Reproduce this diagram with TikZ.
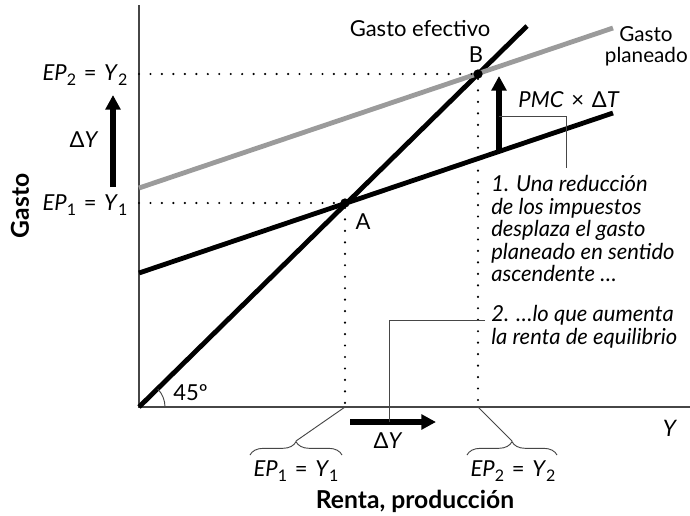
\documentclass[tikz,border=0pt]{standalone}
\usepackage{fontspec}
\setmainfont{Lato}
\usetikzlibrary{arrows.meta,decorations.pathreplacing}

\definecolor{gris}{RGB}{155,155,155}
\definecolor{ejes}{RGB}{70,70,70}
\newcommand{\subind}[1]{\raisebox{-0.45ex}{\fontsize{12}{12}\selectfont #1}}
\newcommand{\igual}{\hspace{0.35em}=\hspace{0.35em}}

\begin{document}
\begin{tikzpicture}[x=0.75pt,y=-0.75pt,
  font=\fontsize{16.5}{19}\selectfont,
  eje/.style={draw=ejes,line width=1.1pt},
  recta/.style={line width=3.6pt},
  punteada/.style={line width=1.8pt,line cap=round,dash pattern=on 0pt off 8.6pt},
  punto/.style={circle,fill=black,inner sep=0pt,minimum size=7pt},
  flecha/.style={line width=3.8pt,-{Triangle[length=11pt,width=11pt]}},
  guia/.style={draw=ejes,line width=0.7pt},
  llave/.style={guia,decorate,decoration={brace,amplitude=10pt}},
  etq/.style={inner sep=0pt,anchor=base},
  negrita/.style={font=\fontsize{18.5}{20}\selectfont\bfseries}]
  \useasboundingbox (0,0) rectangle (690,515);

  % ejes
  \coordinate (O) at (139,407);
  \coordinate (ytop) at (139,5);
  \coordinate (xend) at (690,407);
  \draw[eje] (ytop) -- (O) -- (xend);

  % rectas
  \draw[recta] (O) -- (527,26);
  \draw[recta,gris] (139,188) -- (613,28);
  \draw[recta] (139,273) -- (613,113);

  % 45 grados
  \draw[guia] (165,407) arc[start angle=0,end angle=-44,radius=26];
  \node[etq,anchor=base west] (ang) at (173,400) {45º};

  % equilibrios
  \node[punto] (A) at (345,203) {};
  \node[punto] (B) at (478,74) {};
  \draw[punteada] (A -| O) -- (A);
  \draw[punteada] (B -| O) -- (B);
  \draw[punteada] (A) -- (A |- O);
  \draw[punteada] (B) -- (B |- O);
  \node[etq] (lA) at (363,229) {A};
  \node[etq] (lB) at (476,62) {B};

  \node[etq] (efec) at (420,36) {Gasto efectivo};
  \node[etq,font=\fontsize{15.5}{18}\selectfont] (plan1) at (646,41) {Gasto};
  \node[etq,anchor=base east,font=\fontsize{15.5}{18}\selectfont] (plan2) at (688,62) {planeado};

  % eje vertical
  \node[etq] (ep2) at (85,80) {\textit{EP}\subind{2}\igual\textit{Y}\subind{2}};
  \node[etq] (ep1) at (85,210) {\textit{EP}\subind{1}\igual\textit{Y}\subind{1}};
  \coordinate (dy0) at (113,187);
  \coordinate (dy1) at (113,95);
  \draw[flecha] (dy0) -- (dy1);
  \node[etq] (dyv) at (84,147) {Δ\textit{Y}};
  \node[rotate=90,negrita] (gasto) at (20,206) {Gasto};

  % desplazamiento
  \coordinate (pmc0) at (499,150);
  \coordinate (pmc1) at (499,76);
  \draw[flecha] (pmc0) -- (pmc1);
  \node[etq] (pmc) at (569,107) {\textit{PMC}\hspace{0.35em}×\hspace{0.35em}Δ\textit{T}};
  \coordinate (c1) at (566,116);
  \draw[guia] (pmc1 |- c1) -- (c1) -- ++(0,52);

  \node[inner sep=0pt,anchor=north west,align=left,font=\fontsize{16.5}{16.9}\selectfont\itshape] (txt1) at (491,175)
    {1. Una reducción\\de los impuestos\\desplaza el gasto\\planeado en sentido\\ascendente …};
  \node[inner sep=0pt,anchor=north west,align=left,font=\fontsize{16.5}{17.4}\selectfont\itshape] (txt2) at (491,305)
    {2. …lo que aumenta\\la renta de equilibrio};

  % eje horizontal
  \coordinate (dx0) at (350,422);
  \coordinate (dx1) at (436,422);
  \draw[flecha] (dx0) -- (dx1);
  \node[etq] (dyh) at (388,448) {Δ\textit{Y}};
  \coordinate (c2) at (389,320);
  \draw[guia] (485,320) -- (c2) -- (c2 |- dx0);

  \draw[llave] (250,455) -- (342,455);
  \draw[llave] (467,455) -- (557,455);
  \coordinate (t1) at (296,441);
  \coordinate (t2) at (512,441);
  \draw[guia] (t1) -- (A |- O);
  \draw[guia] (t2) -- (B |- O);
  \node[etq] (y1) at (296,476) {\textit{EP}\subind{1}\igual\textit{Y}\subind{1}};
  \node[etq] (y2) at (513,476) {\textit{EP}\subind{2}\igual\textit{Y}\subind{2}};

  \node[etq,font=\fontsize{17}{19}\selectfont] (ylab) at (670,436) {\textit{Y}};
  \node[etq,negrita] (renta) at (415,508) {Renta, producción};
\end{tikzpicture}
\end{document}
